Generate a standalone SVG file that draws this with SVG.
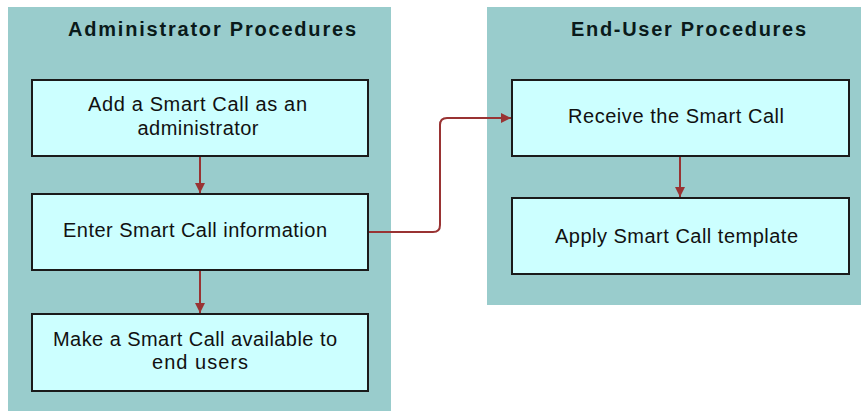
<svg xmlns="http://www.w3.org/2000/svg" width="861" height="411" viewBox="0 0 861 411">
<style>
.panel{fill:#99CCCC;}
.box{fill:#CCFFFF;stroke:#1a1a1a;stroke-width:2;}
.title{font-family:"Liberation Sans",Arial,sans-serif;font-weight:bold;font-size:20px;fill:#0a1a1a;text-anchor:middle;}
.lbl{font-family:"Liberation Sans",Arial,sans-serif;font-size:20px;fill:#111;text-anchor:middle;}
.conn{fill:none;stroke:#993333;stroke-width:2;}
</style>
<defs>
<marker id="ah" markerWidth="10" markerHeight="10" refX="10" refY="5" orient="auto" markerUnits="userSpaceOnUse">
<path d="M0,0 L10,5 L0,10 Z" fill="#993333"/>
</marker>
</defs>
<g id="panel-admin">
<rect class="panel" x="8" y="7" width="383" height="404"/>
<text class="title" x="212" y="36" textLength="288" lengthAdjust="spacing">Administrator Procedures</text>
</g>
<g id="panel-enduser">
<rect class="panel" x="487" y="7" width="374" height="298"/>
<text class="title" x="688.5" y="36" textLength="235" lengthAdjust="spacing">End-User Procedures</text>
</g>
<g id="connectors">
<path class="conn" d="M200,156 L200,193" marker-end="url(#ah)"/>
<path class="conn" d="M200,270 L200,313" marker-end="url(#ah)"/>
<path class="conn" d="M680,156 L680,197" marker-end="url(#ah)"/>
<path class="conn" d="M368,232 L433,232 Q440,232 440,225 L440,125 Q440,118 447,118 L511,118" marker-end="url(#ah)"/>
</g>
<g id="node-add">
<rect class="box" x="32" y="80" width="336" height="76"/>
<text class="lbl" x="197.5" y="111" textLength="219" lengthAdjust="spacing">Add a Smart Call as an</text>
<text class="lbl" x="198" y="135" textLength="121" lengthAdjust="spacing">administrator</text>
</g>
<g id="node-enter">
<rect class="box" x="32" y="194" width="336" height="76"/>
<text class="lbl" x="195" y="237" textLength="264" lengthAdjust="spacing">Enter Smart Call information</text>
</g>
<g id="node-make">
<rect class="box" x="32" y="314" width="336" height="77"/>
<text class="lbl" x="195" y="346" textLength="284" lengthAdjust="spacing">Make a Smart Call available to</text>
<text class="lbl" x="200" y="369" textLength="96" lengthAdjust="spacing">end users</text>
</g>
<g id="node-receive">
<rect class="box" x="512" y="80" width="337" height="76"/>
<text class="lbl" x="676" y="123" textLength="216" lengthAdjust="spacing">Receive the Smart Call</text>
</g>
<g id="node-apply">
<rect class="box" x="512" y="198" width="337" height="76"/>
<text class="lbl" x="676.5" y="243" textLength="243" lengthAdjust="spacing">Apply Smart Call template</text>
</g>
</svg>
